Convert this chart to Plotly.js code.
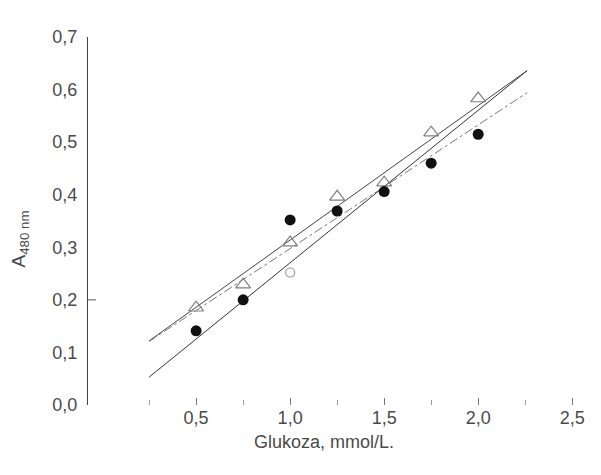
<!DOCTYPE html>
<html>
<head>
<meta charset="utf-8">
<script src="https://cdn.plot.ly/plotly-3.0.1.min.js"></script>
<style>html,body{margin:0;padding:0;background:#fff;}#chart{width:601px;height:475px;}</style>
</head>
<body>
<div id="chart"></div>
<script>
// Data
const glucose = [0.5, 0.75, 1.0, 1.25, 1.5, 1.75, 2.0];
const absCircles = [0.141, 0.200, 0.352, 0.369, 0.406, 0.460, 0.515];
const absTriangles = [0.185, 0.229, 0.309, 0.396, 0.423, 0.518, 0.583];
const openCircleX = [1.0];
const openCircleY = [0.252];
const lineX = [0.25, 2.26];
const lineSteep = [0.053, 0.636];
const lineDashDot = [0.121, 0.594];
const lineTriangles = [0.122, 0.636];
const xTickVals = [0.5, 1.0, 1.5, 2.0, 2.5];
const xTickText = ["0,5", "1,0", "1,5", "2,0", "2,5"];
const xMinorVals = [0.25, 0.75, 1.25, 1.75, 2.25];
const yTickVals = [0, 0.1, 0.2, 0.3, 0.4, 0.5, 0.6, 0.7];
const yTickText = ["0,0", "0,1", "0,2", "0,3", "0,4", "0,5", "0,6", "0,7"];
const xTitle = 'Glukoza, mmol/L.';
const yTitle = 'A<sub>480 nm</sub>';

const traces = [
  {x: lineX, y: lineSteep, mode: 'lines', line: {color: '#333', width: 1}, hoverinfo: 'skip'},
  {x: lineX, y: lineTriangles, mode: 'lines', line: {color: '#444', width: 1}, hoverinfo: 'skip'},
  {x: lineX, y: lineDashDot, mode: 'lines', line: {color: '#777', width: 1, dash: 'dashdot'}, hoverinfo: 'skip'},
  {x: glucose, y: absTriangles, mode: 'markers', marker: {symbol: 'triangle-up-open', size: 13, color: '#808080', line: {width: 1.2}}},
  {x: glucose, y: absCircles, mode: 'markers', marker: {symbol: 'circle', size: 11, color: '#111'}},
  {x: openCircleX, y: openCircleY, mode: 'markers', marker: {symbol: 'circle-open', size: 9, color: '#999', line: {width: 1.2}}}
];

const fontFam = 'Liberation Sans, Arial, sans-serif';
const txtCol = '#4a4a4a';
const layout = {
  width: 601, height: 475,
  margin: {l: 88, r: 10, t: 37, b: 70},
  paper_bgcolor: '#fff', plot_bgcolor: '#fff',
  showlegend: false,
  font: {family: fontFam, color: txtCol, size: 18},
  xaxis: {
    range: [-0.075, 2.6],
    showline: false, showgrid: false, zeroline: false,
    tickmode: 'array', tickvals: xTickVals, ticktext: xTickText,
    ticks: 'inside', ticklen: 7, tickwidth: 1, tickcolor: '#777',
    minor: {tickmode: 'array', tickvals: xMinorVals, ticks: 'inside', ticklen: 5, tickwidth: 1, tickcolor: '#999'},
    tickfont: {size: 18, color: txtCol}
  },
  yaxis: {
    range: [0, 0.7],
    showline: true, linecolor: '#444', linewidth: 1,
    showgrid: false, zeroline: false,
    tickmode: 'array', tickvals: yTickVals, ticktext: yTickText,
    ticks: '', ticklen: 0,
    ticklabelstandoff: 6,
    tickfont: {size: 18, color: txtCol}
  },
  annotations: [
    {text: xTitle, xref: 'paper', yref: 'paper', x: 0.47, y: -0.1, xanchor: 'center', yanchor: 'middle',
     showarrow: false, font: {size: 18, color: txtCol}},
    {text: yTitle, xref: 'paper', yref: 'paper', x: -0.135, y: 0.45, xanchor: 'center', yanchor: 'middle',
     textangle: -90, showarrow: false, font: {size: 19, color: txtCol}}
  ],
  shapes: [
    {type: 'line', xref: 'paper', yref: 'y', x0: 0, x1: 0.016, y0: 0.2, y1: 0.2, line: {color: '#555', width: 1}}
  ]
};

Plotly.newPlot('chart', traces, layout, {displayModeBar: false, staticPlot: true});
</script>
</body>
</html>
